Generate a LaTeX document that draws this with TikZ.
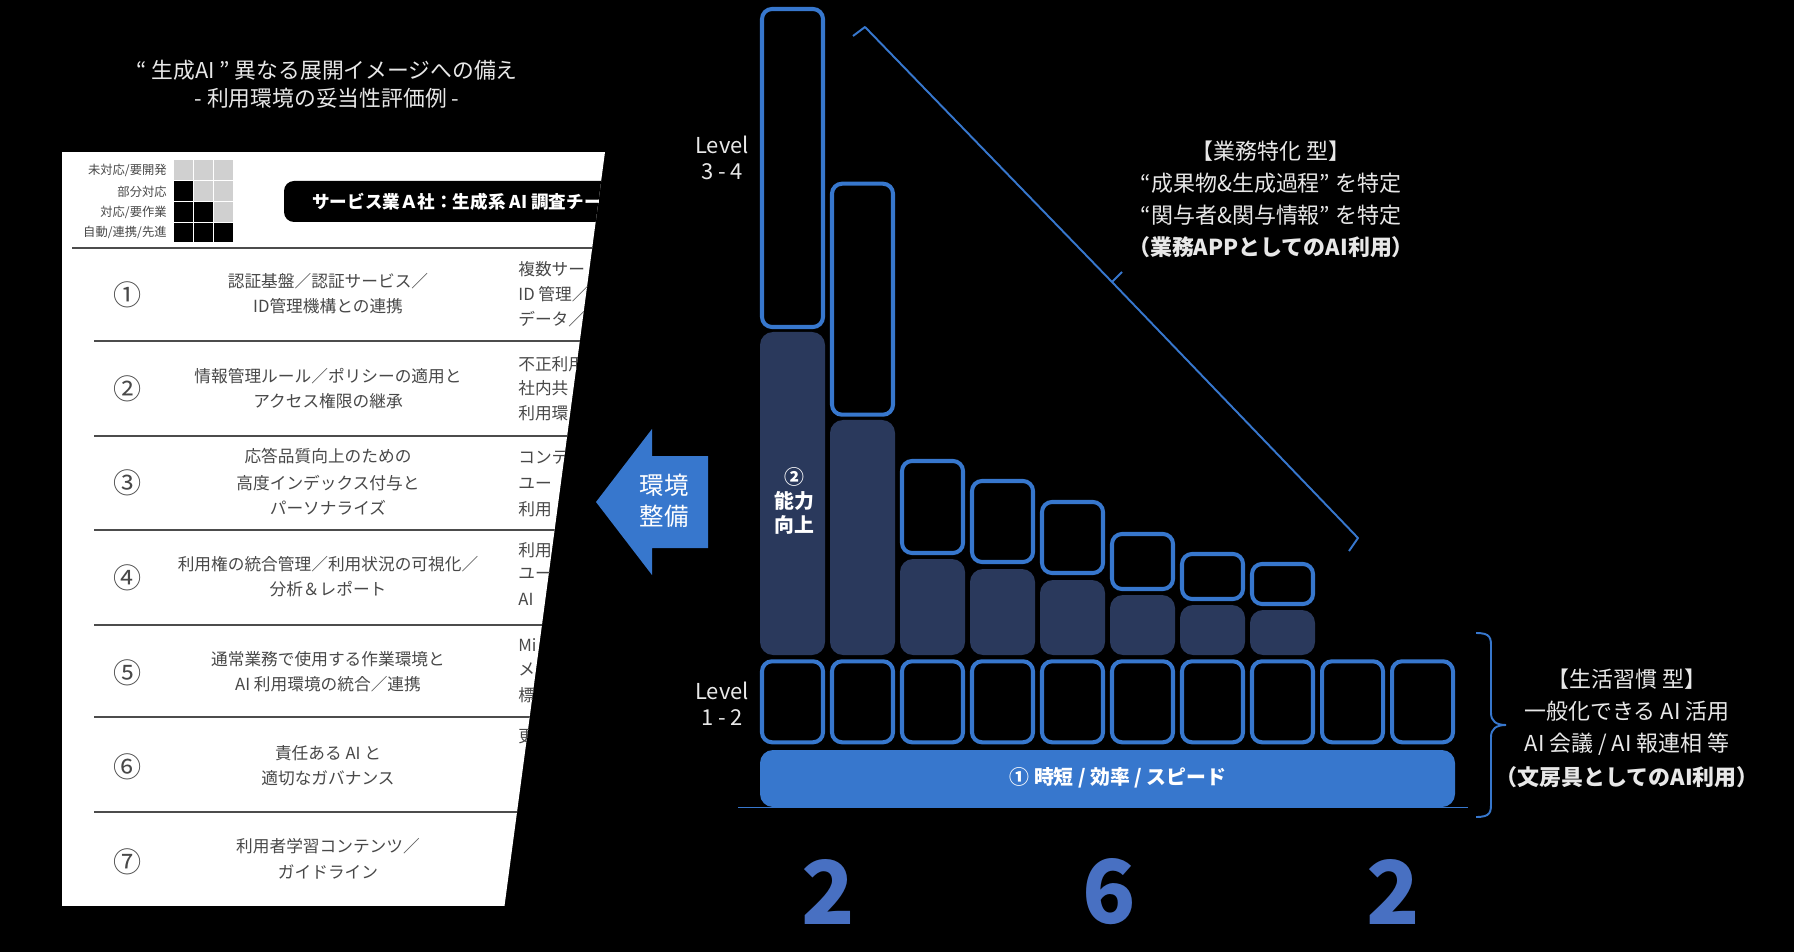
\documentclass[tikz,border=0pt]{standalone}
\usepackage{fontspec}
\setmainfont{Noto Sans CJK JP}
\definecolor{mblue}{RGB}{55,119,205}
\definecolor{navy}{RGB}{42,57,92}
\definecolor{numblue}{RGB}{72,112,194}
\definecolor{doctext}{RGB}{72,72,72}
\definecolor{lgray}{RGB}{208,208,208}
\definecolor{ltext}{RGB}{232,232,232}
\newcommand\myfs[1]{\fontsize{#1pt}{#1pt}\selectfont}
\begin{document}
\begin{tikzpicture}[x=0.02cm,y=-0.02cm,
  obox/.style={draw=mblue,line width=2.3pt,rounded corners=0.2cm},
  dbox/.style={fill=navy,rounded corners=0.26cm},
  wtext/.style={text=white,inner sep=0pt},
  ltxt/.style={text=ltext,inner sep=0pt,font=\myfs{12.5}},
  dtxt/.style={text=doctext,inner sep=0pt,font=\myfs{9.5}},
  brc/.style={draw=mblue,line width=1.1pt},
  bignum/.style={text=numblue,inner sep=0pt,font=\myfs{50}\bfseries}]
\fill[black] (0,0) rectangle (1794,952);
\useasboundingbox (0,0) rectangle (1794,952);

% ---------- left title ----------
\node[ltxt,font=\myfs{12.4}] (t1) at (327,70) {“ 生成AI ” 異なる展開イメージへの備え};
\node[ltxt,font=\myfs{12.4}] (t2) at (327,98) {- 利用環境の妥当性評価例 -};

% ---------- left document ----------
\begin{scope}
\clip (62,152) -- (605,152) -- (504.5,906) -- (62,906) -- cycle;
\fill[white] (62,152) rectangle (620,906);
% legend
\node[dtxt,font=\myfs{7},anchor=east] (lg1) at (167,170) {未対応/要開発};
\node[dtxt,font=\myfs{7},anchor=east] (lg2) at (167,191.5) {部分対応};
\node[dtxt,font=\myfs{7},anchor=east] (lg3) at (167,212) {対応/要作業};
\node[dtxt,font=\myfs{7},anchor=east] (lg4) at (167,232.5) {自動/連携/先進};
\foreach \r/\a/\b/\c in {0/lgray/lgray/lgray,1/black/lgray/lgray,2/black/black/lgray,3/black/black/black}{
  \fill[\a] (174,{160.5+20.8*\r}) rectangle +(19,19.5);
  \fill[\b] (194,{160.5+20.8*\r}) rectangle +(19,19.5);
  \fill[\c] (214,{160.5+20.8*\r}) rectangle +(19,19.5);
}
% title box
\fill[black,rounded corners=0.2cm] (284,181) rectangle (680,222);
\node[wtext,font=\myfs{10}\bfseries,anchor=west] (dt) at (312,201.5) {サービス業Ａ社：生成系 AI 調査チーム};
% rules
\draw[black!70,line width=1.1pt] (72,248) -- (620,248);
\foreach \y in {341,436,530,625,717,812}{\draw[black!70,line width=1.1pt] (94,\y) -- (620,\y);}
% circled numbers
\foreach \n/\s/\y in {1/①/295,2/②/389,3/③/483,4/④/578,5/⑤/673,6/⑥/766.5,7/⑦/861.5}{
  \node[dtxt,font=\myfs{16}] (c\n) at (128,\y) {\s};}
% row texts
\node[dtxt] (r1a) at (328,281.5) {認証基盤／認証サービス／};
\node[dtxt] (r1b) at (328,306.6) {ID管理機構との連携};
\node[dtxt] (r2a) at (328,376.4) {情報管理ルール／ポリシーの適用と};
\node[dtxt] (r2b) at (328,401.6) {アクセス権限の継承};
\node[dtxt] (r3a) at (328,456.5) {応答品質向上のための};
\node[dtxt] (r3b) at (328,482.8) {高度インデックス付与と};
\node[dtxt] (r3c) at (328,508) {パーソナライズ};
\node[dtxt] (r4a) at (328,564) {利用権の統合管理／利用状況の可視化／};
\node[dtxt] (r4b) at (328,589) {分析＆レポート};
\node[dtxt] (r5a) at (328,659) {通常業務で使用する作業環境と};
\node[dtxt] (r5b) at (328,684) {AI 利用環境の統合／連携};
\node[dtxt] (r6a) at (328,752.8) {責任ある AI と};
\node[dtxt] (r6b) at (328,778) {適切なガバナンス};
\node[dtxt] (r7a) at (328,846.6) {利用者学習コンテンツ／};
\node[dtxt] (r7b) at (328,871.8) {ガイドライン};
% right column fragments (clipped)
\node[dtxt,anchor=west] (q1a) at (518,269) {複数サー};
\node[dtxt,anchor=west] (q1b) at (518,294) {ID 管理／};
\node[dtxt,anchor=west] (q1c) at (518,319) {データ／};
\node[dtxt,anchor=west] (q2a) at (518,364) {不正利用};
\node[dtxt,anchor=west] (q2b) at (518,388) {社内共};
\node[dtxt,anchor=west] (q2c) at (518,413) {利用環};
\node[dtxt,anchor=west] (q3a) at (518,457.6) {コンテ};
\node[dtxt,anchor=west] (q3b) at (518,484) {ユー};
\node[dtxt,anchor=west] (q3c) at (518,509) {利用};
\node[dtxt,anchor=west] (q4a) at (518,550) {利用};
\node[dtxt,anchor=west] (q4b) at (518,574) {ユー};
\node[dtxt,anchor=west] (q4c) at (518,599.5) {AI};
\node[dtxt,anchor=west] (q5a) at (518,645) {Mi};
\node[dtxt,anchor=west] (q5b) at (518,669) {メ};
\node[dtxt,anchor=west] (q5c) at (518,695.6) {標};
\node[dtxt,anchor=west] (q6a) at (518,737) {更};
\end{scope}

% ---------- arrow ----------
\fill[mblue] (596,502) -- (652,429) -- (652,456) -- (708,456) -- (708,548) -- (652,548) -- (652,575) -- cycle;
\node[wtext,font=\myfs{13.9}] (ar1) at (664,485) {環境};
\node[wtext,font=\myfs{13.9}] (ar2) at (664,516) {整備};

% ---------- levels ----------
\node[ltxt] (lv3a) at (722,145) {Level};
\node[ltxt] (lv3b) at (722,171.7) {3 - 4};
\node[ltxt] (lv1a) at (722,691) {Level};
\node[ltxt] (lv1b) at (722,717.3) {1 - 2};

% ---------- dark columns ----------
\foreach \i/\t in {0/332,1/420,2/559,3/569,4/580,5/595,6/605,7/610}{
  \fill[dbox] ({760+70*\i},\t) rectangle ({825+70*\i},655);}
% upper outline boxes
\draw[obox] (762,9) rectangle (823,327);
\foreach \i/\t/\b in {1/181.7/416.7,2/459/555,3/479/564,4/500/575,5/532/591,6/552/601,7/562/606}{
  \draw[obox] ({762+70*\i},{\t+2}) rectangle ({823+70*\i},{\b-2});}
% bottom row boxes
\foreach \i in {0,...,9}{\draw[obox] ({762+70*\i},661.3) rectangle ({823+70*\i},742.3);}
% bar
\fill[mblue,rounded corners=0.26cm] (760,750) rectangle (1455,807);
\draw[mblue,line width=1pt] (738,807.5) -- (1468,807.5);
\node[wtext,font=\myfs{11.3}\bfseries] (bar) at (1118,778) {① 時短 / 効率 / スピード};
% ability text
\node[wtext,font=\myfs{11.3}\bfseries] (ab1) at (794,477) {②};
\node[wtext,font=\myfs{11.3}\bfseries] (ab2) at (794,501) {能力};
\node[wtext,font=\myfs{11.3}\bfseries] (ab3) at (794,524.5) {向上};

% ---------- diagonal brace ----------
\draw[brc,line join=round] (853,36) -- (865,27) -- (1112,282) -- (1358,538) -- (1349,551);
\draw[brc] (1112,282) -- (1122,272);

% ---------- right brace ----------
\draw[brc] (1476,633) .. controls (1491,633) and (1491,638) .. (1491,648) -- (1491,713)
  .. controls (1491,721) and (1496,725) .. (1506,725)
  .. controls (1496,725) and (1491,729) .. (1491,737) -- (1491,802)
  .. controls (1491,812) and (1491,817) .. (1476,817);

% ---------- right texts ----------
\node[ltxt] (g1) at (1271,151) {【業務特化 型】};
\node[ltxt] (g2) at (1271,183) {“成果物\&生成過程” を特定};
\node[ltxt] (g3) at (1271,215) {“関与者\&関与情報” を特定};
\node[ltxt,font=\myfs{12.5}\bfseries] (g4) at (1271,247) {（業務APPとしてのAI利用）};
\node[ltxt] (h1) at (1627,679) {【生活習慣 型】};
\node[ltxt] (h2) at (1627,711) {一般化できる AI 活用};
\node[ltxt] (h3) at (1627,744) {AI 会議 / AI 報連相 等};
\node[ltxt,font=\myfs{12.5}\bfseries] (h4) at (1627,777.5) {（文房具としてのAI利用）};

% ---------- numbers ----------
\node[bignum] (n1) at (828,892) {2};
\node[bignum] (n2) at (1109,892) {6};
\node[bignum] (n3) at (1393,892) {2};
\end{tikzpicture}
\end{document}
